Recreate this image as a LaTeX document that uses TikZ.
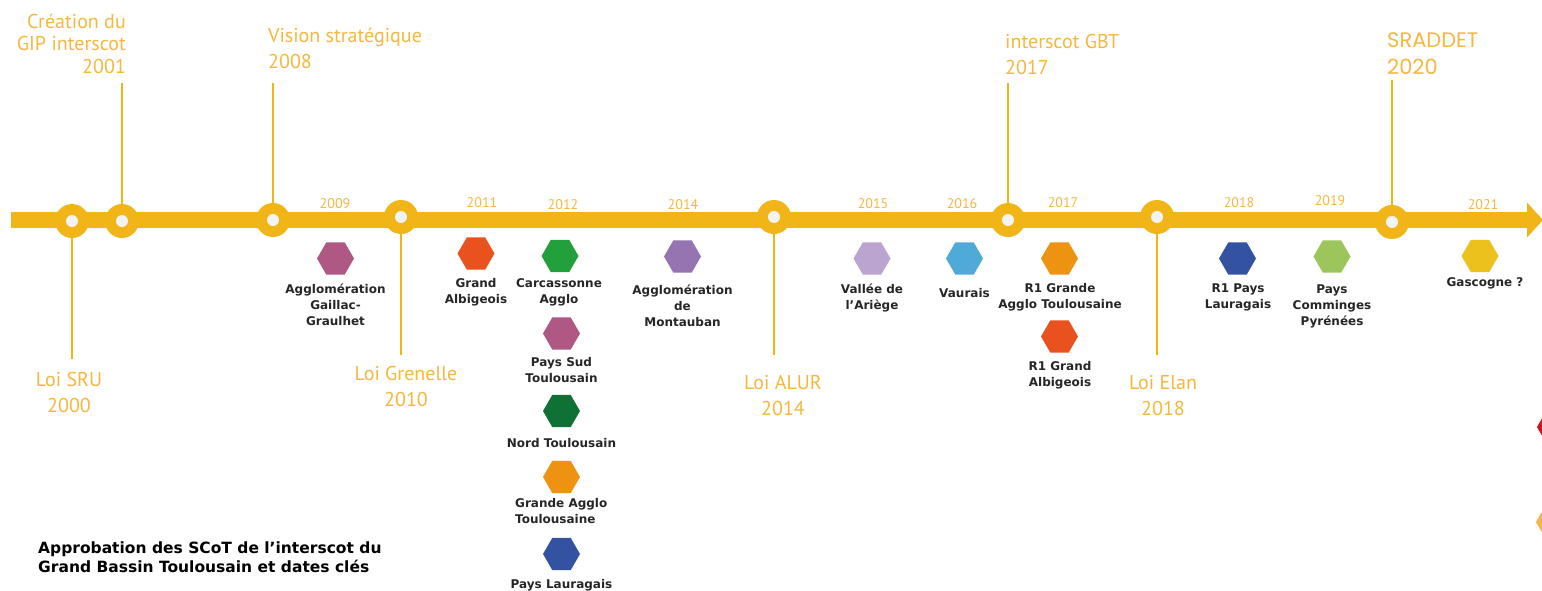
\documentclass[tikz,border=0pt]{standalone}
\usepackage{fontspec}
\usetikzlibrary{shapes.geometric,arrows.meta}
\newfontfamily\jalonfont{PT Sans}
\newfontfamily\sraddetfont{Poppins}
\newfontfamily\scotfont{DejaVu Sans}
\definecolor{frise}{HTML}{F2B517}
\definecolor{jalon}{HTML}{F6B73C}
\definecolor{creux}{HTML}{F3F3F3}
\definecolor{prune}{HTML}{AE5883}
\definecolor{brique}{HTML}{E9521F}
\definecolor{vert}{HTML}{23A03B}
\definecolor{sapin}{HTML}{0F7234}
\definecolor{mandarine}{HTML}{EE9211}
\definecolor{marine}{HTML}{3352A1}
\definecolor{violet}{HTML}{9673B1}
\definecolor{lavande}{HTML}{BBA5D0}
\definecolor{ciel}{HTML}{4FAAD7}
\definecolor{pomme}{HTML}{9CC55B}
\definecolor{moutarde}{HTML}{ECC11E}
\definecolor{grenat}{HTML}{C8161D}
\definecolor{abricot}{HTML}{F7B44A}
\tikzset{
  hexa/.style={regular polygon, regular polygon sides=6, minimum size=37pt, fill=#1},
  repere/.style={circle, fill=frise, minimum size=34pt},
  trait/.style={frise, line width=2.6pt},
  annee/.style={font=\jalonfont\fontsize{14}{14}\selectfont, text=jalon, anchor=base},
  loi/.style={font=\jalonfont\fontsize{20}{26}\selectfont, text=jalon, anchor=base, align=center},
  scot/.style={font=\scotfont\bfseries\fontsize{12}{16}\selectfont, text=black!85, anchor=base, align=center}
}
\begin{document}
\begin{tikzpicture}[x=1pt,y=-1pt]
    \tikzstyle{every node}+=[inner sep=0pt]
    \useasboundingbox (0,0) rectangle (1542,590);
    \coordinate (debut) at (11,220);
    \coordinate (fin) at (1543,220);
    \draw [frise, line width=16.5pt, -{Triangle[length=16pt,width=34pt]}] (debut) -- (fin);
    \node [repere] (sru) at (72,221) {};
    \node [repere] (gip) at (122,221) {};
    \node [repere] (vision) at (273,220) {};
    \node [repere] (grenelle) at (401,217) {};
    \node [repere] (alur) at (774,217) {};
    \node [repere] (gbt) at (1008,220) {};
    \node [repere] (elan) at (1157,217) {};
    \node [repere] (sraddet) at (1392,222) {};
    \fill [creux] (sru.center) circle (6);
    \fill [creux] (gip.center) circle (6);
    \fill [creux] (vision.center) circle (6);
    \fill [creux] (grenelle.center) circle (6);
    \fill [creux] (alur.center) circle (6);
    \fill [creux] (gbt.center) circle (6);
    \fill [creux] (elan.center) circle (6);
    \fill [creux] (sraddet.center) circle (6);
    \coordinate (sru-bout) at (72,359);
    \coordinate (gip-bout) at (122,83);
    \coordinate (vision-bout) at (273,83);
    \coordinate (grenelle-bout) at (401,355);
    \coordinate (alur-bout) at (774,355);
    \coordinate (gbt-bout) at (1008,83);
    \coordinate (elan-bout) at (1157,355);
    \coordinate (sraddet-bout) at (1392,80);
    \draw [trait] (sru.south) -- (sru-bout);
    \draw [trait] (gip.north) -- (gip-bout);
    \draw [trait] (vision.north) -- (vision-bout);
    \draw [trait] (grenelle.south) -- (grenelle-bout);
    \draw [trait] (alur.south) -- (alur-bout);
    \draw [trait] (gbt.north) -- (gbt-bout);
    \draw [trait] (elan.south) -- (elan-bout);
    \draw [trait] (sraddet.north) -- (sraddet-bout);
    \node [loi] (sru-texte) at (69,412) {Loi SRU\\2000};
    \node [loi, anchor=base east, align=right, font=\jalonfont\fontsize{20}{22.5}\selectfont] (gip-texte) at (126,73) {Création du\\GIP interscot\\2001};
    \node [loi, anchor=base west, align=left] (vision-texte) at (268,68) {Vision stratégique\\2008};
    \node [loi] (grenelle-texte) at (406,406) {Loi Grenelle\\2010};
    \node [loi] (alur-texte) at (783,415) {Loi ALUR\\2014};
    \node [loi, anchor=base west, align=left] (gbt-texte) at (1005,74) {interscot GBT\\2017};
    \node [loi] (elan-texte) at (1163,415) {Loi Elan\\2018};
    \node [loi, anchor=base west, align=left, font=\sraddetfont\fontsize{21}{27}\selectfont] (sraddet-texte) at (1387,74) {SRADDET\\2020};
    \node [annee] (an-2009) at (335,208) {2009};
    \node [annee] (an-2011) at (482,207) {2011};
    \node [annee] (an-2012) at (563,209) {2012};
    \node [annee] (an-2014) at (683,209) {2014};
    \node [annee] (an-2015) at (873,208) {2015};
    \node [annee] (an-2016) at (962,208) {2016};
    \node [annee] (an-2017) at (1063,207) {2017};
    \node [annee] (an-2018) at (1239,207) {2018};
    \node [annee] (an-2019) at (1330,205) {2019};
    \node [annee] (an-2021) at (1483,209) {2021};
    \node [hexa=prune] (gaillac) at (335.5,258.5) {};
    \node [scot] (gaillac-texte) at (335.5,325) {Agglomération\\Gaillac-\\Graulhet};
    \node [hexa=brique] (albi) at (476,253.5) {};
    \node [scot] (albi-texte) at (476,303) {Grand\\Albigeois};
    \node [hexa=vert] (carca) at (560,256) {};
    \node [scot] (carca-texte) at (559,303) {Carcassonne\\Agglo};
    \node [hexa=prune] (payssud) at (561.5,333.5) {};
    \node [scot] (payssud-texte) at (561.5,382) {Pays Sud\\Toulousain};
    \node [hexa=sapin] (nord) at (561.5,411) {};
    \node [scot] (nord-texte) at (561.5,447) {Nord Toulousain};
    \node [hexa=mandarine] (gat) at (561.5,477) {};
    \node [scot, anchor=base west, align=left] (gat-texte) at (515,523) {Grande Agglo\\Toulousaine};
    \node [hexa=marine] (laur) at (561.5,554) {};
    \node [scot] (laur-texte) at (561.5,588) {Pays Lauragais};
    \node [hexa=violet] (montauban) at (682.5,256.5) {};
    \node [scot] (montauban-texte) at (682.5,326) {Agglomération\\de\\Montauban};
    \node [hexa=lavande] (ariege) at (872,258.5) {};
    \node [scot] (ariege-texte) at (872,309) {Vallée de\\l’Ariège};
    \node [hexa=ciel] (vaurais) at (964.5,258.5) {};
    \node [scot] (vaurais-texte) at (964.5,297) {Vaurais};
    \node [hexa=mandarine] (rgat) at (1059.5,258.5) {};
    \node [scot] (rgat-texte) at (1060,308) {R1 Grande\\Agglo Toulousaine};
    \node [hexa=brique] (ralbi) at (1059.5,336.5) {};
    \node [scot] (ralbi-texte) at (1060,386) {R1 Grand\\Albigeois};
    \node [hexa=marine] (rlaur) at (1237.5,258.5) {};
    \node [scot] (rlaur-texte) at (1238,308) {R1 Pays\\Lauragais};
    \node [hexa=pomme] (comminges) at (1332,256.5) {};
    \node [scot] (comminges-texte) at (1332,325) {Pays\\Comminges\\Pyrénées};
    \node [hexa=moutarde] (gascogne) at (1480,256) {};
    \node [scot] (gascogne-texte) at (1485,286) {Gascogne ?};
    \node [hexa=grenat] (bord-grenat) at (1555.5,427) {};
    \node [hexa=abricot] (bord-abricot) at (1554.5,522) {};
    \node [font=\scotfont\bfseries\fontsize{15.5}{19}\selectfont, anchor=base west, align=left] (titre) at (38,572) {Approbation des SCoT de l’interscot du\\Grand Bassin Toulousain et dates clés};
\end{tikzpicture}
\end{document}
